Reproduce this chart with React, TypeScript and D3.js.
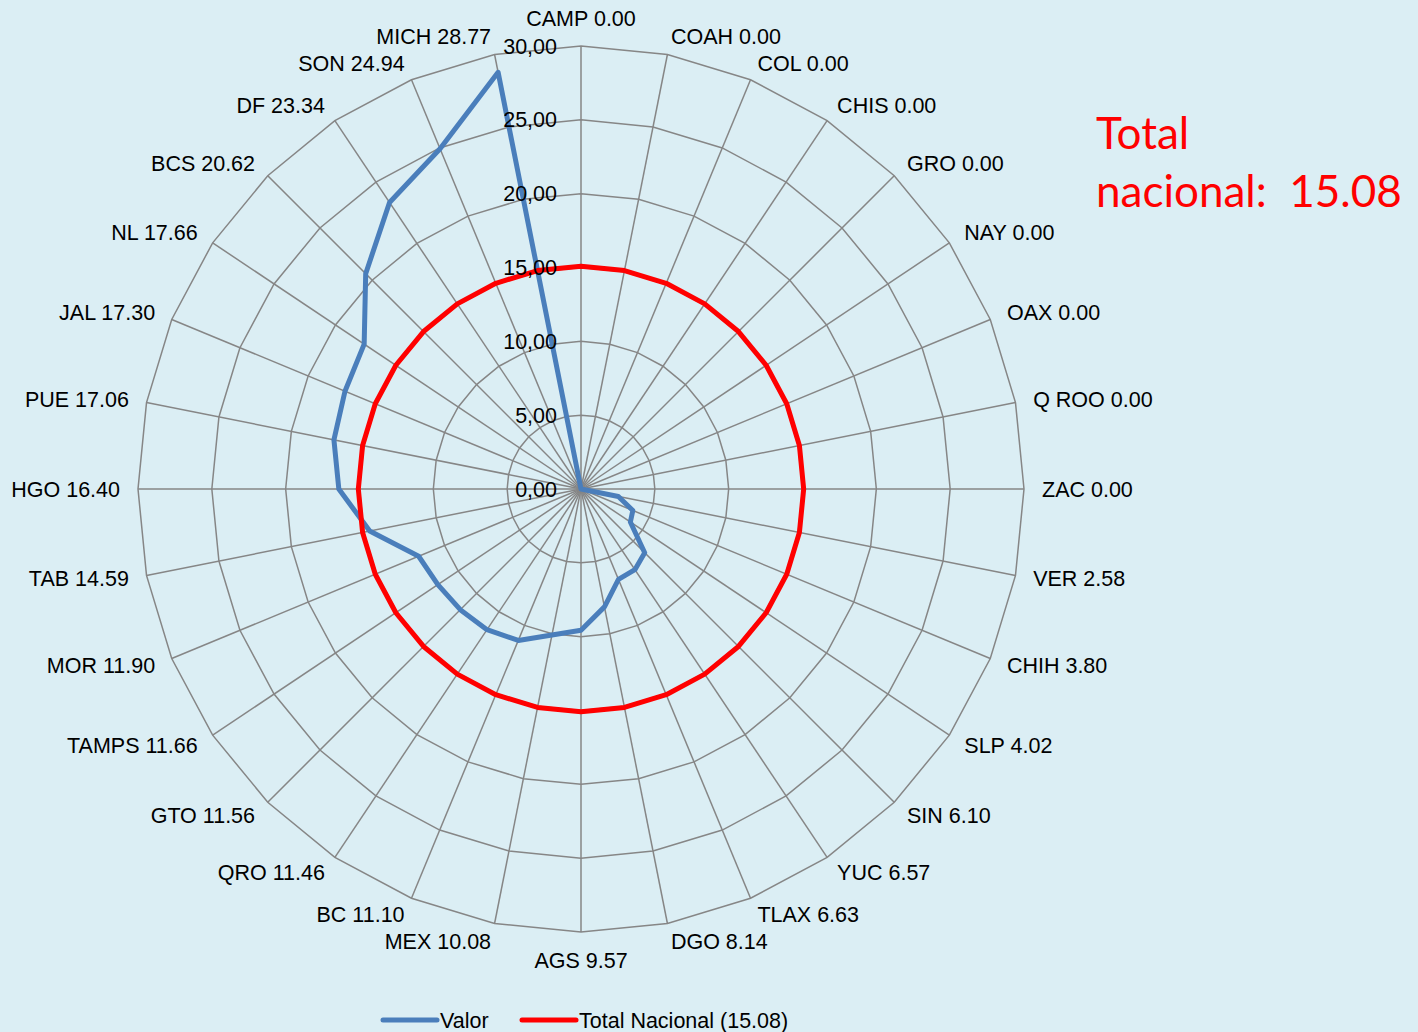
import { useEffect, useRef } from "react";
import * as d3 from "d3";

const states = [
  "CAMP", "COAH", "COL", "CHIS", "GRO", "NAY", "OAX", "Q ROO", "ZAC", "VER", "CHIH",
  "SLP", "SIN", "YUC", "TLAX", "DGO", "AGS", "MEX", "BC", "QRO", "GTO", "TAMPS",
  "MOR", "TAB", "HGO", "PUE", "JAL", "NL", "BCS", "DF", "SON", "MICH",
];
const valor = [
  0, 0, 0, 0, 0, 0, 0, 0, 0, 2.58, 3.8,
  4.02, 6.1, 6.57, 6.63, 8.14, 9.57, 10.08, 11.1, 11.46, 11.56, 11.66,
  11.9, 14.59, 16.4, 17.06, 17.3, 17.66, 20.62, 23.34, 24.94, 28.77,
];
const totalNacional = 15.08;
const ticks = [0, 5, 10, 15, 20, 25, 30];

export default function App() {
  const svgRef = useRef<SVGSVGElement>(null);

  useEffect(() => {
    if (!svgRef.current) return;
    document.body.style.margin = "0";
    const svg = d3.select(svgRef.current);
    svg.selectAll("*").remove();

    const width = 1418;
    const height = 1032;
    const cx = 581;
    const cy = 489;
    const R = 443;
    const font = "'Liberation Sans', Arial, sans-serif";
    const fs = 21.5;

    svg.append("rect").attr("width", width).attr("height", height).attr("fill", "#dbeef4");

    const r = d3.scaleLinear().domain([0, 30]).range([0, R]);
    const angle = (i: number) => (i * 2 * Math.PI) / states.length;

    const radial = d3
      .lineRadial<number>()
      .angle((_, i) => angle(i))
      .radius((d) => r(d))
      .curve(d3.curveLinearClosed);

    const g = svg.append("g").attr("transform", `translate(${cx},${cy})`);

    // rings
    ticks.slice(1).forEach((t) => {
      g.append("path")
        .attr("d", radial(states.map(() => t)))
        .attr("fill", "none")
        .attr("stroke", "#868686")
        .attr("stroke-width", 1.5);
    });

    // spokes
    states.forEach((_, i) => {
      const a = angle(i);
      g.append("line")
        .attr("x1", 0)
        .attr("y1", 0)
        .attr("x2", R * Math.sin(a))
        .attr("y2", -R * Math.cos(a))
        .attr("stroke", "#868686")
        .attr("stroke-width", 1.5);
    });

    // valor series
    g.append("path")
      .attr("d", radial(valor))
      .attr("fill", "none")
      .attr("stroke", "#4a7ebb")
      .attr("stroke-width", 5)
      .attr("stroke-linejoin", "round");

    // total nacional
    g.append("path")
      .attr("d", radial(states.map(() => totalNacional)))
      .attr("fill", "none")
      .attr("stroke", "#ff0000")
      .attr("stroke-width", 5)
      .attr("stroke-linejoin", "round");

    // tick labels (drawn above the series)
    ticks.forEach((t) => {
      g.append("text")
        .attr("x", -24)
        .attr("y", -r(t))
        .attr("dy", "0.35em")
        .attr("text-anchor", "end")
        .attr("font-family", font)
        .attr("font-size", fs)
        .attr("fill", "#000")
        .text(t.toFixed(2).replace(".", ","));
    });

    // category labels
    states.forEach((s, i) => {
      const a = angle(i);
      const sin = Math.sin(a);
      const cos = Math.cos(a);
      const px = (R + 18) * sin;
      const py = -(R + 18) * cos;
      let anchor = "middle";
      if (sin > 0.01) anchor = "start";
      else if (sin < -0.01) anchor = "end";
      let y = py;
      if (Math.abs(sin) < 0.01) y = cos > 0 ? py - 10 : py + 10;
      g.append("text")
        .attr("x", px)
        .attr("y", y)
        .attr("dy", "0.35em")
        .attr("text-anchor", anchor)
        .attr("font-family", font)
        .attr("font-size", fs)
        .attr("fill", "#000")
        .text(`${s} ${valor[i].toFixed(2)}`);
    });

    // annotation
    const note = svg
      .append("text")
      .attr("font-family", "Lato, 'Open Sans', sans-serif")
      .attr("font-size", 44)
      .attr("fill", "#ff0000");
    note.append("tspan").attr("x", 1096).attr("y", 149).text("Total");
    note.append("tspan").attr("x", 1096).attr("y", 207).attr("xml:space", "preserve").text("nacional:  15.08");

    // legend
    const legend = [
      { label: "Valor", color: "#4a7ebb", x: 383 },
      { label: "Total Nacional (15.08)", color: "#ff0000", x: 522 },
    ];
    legend.forEach((item) => {
      svg.append("line")
        .attr("x1", item.x)
        .attr("x2", item.x + 54)
        .attr("y1", 1020)
        .attr("y2", 1020)
        .attr("stroke", item.color)
        .attr("stroke-width", 5)
        .attr("stroke-linecap", "round");
      svg.append("text")
        .attr("x", item.x + 57)
        .attr("y", 1020)
        .attr("dy", "0.35em")
        .attr("font-family", font)
        .attr("font-size", fs)
        .attr("fill", "#000")
        .text(item.label);
    });
  }, []);

  return (
    <div style={{ position: "fixed", left: 0, top: 0, width: 1418, height: 1032 }}>
      <svg ref={svgRef} width={1418} height={1032} style={{ display: "block" }} />
    </div>
  );
}
